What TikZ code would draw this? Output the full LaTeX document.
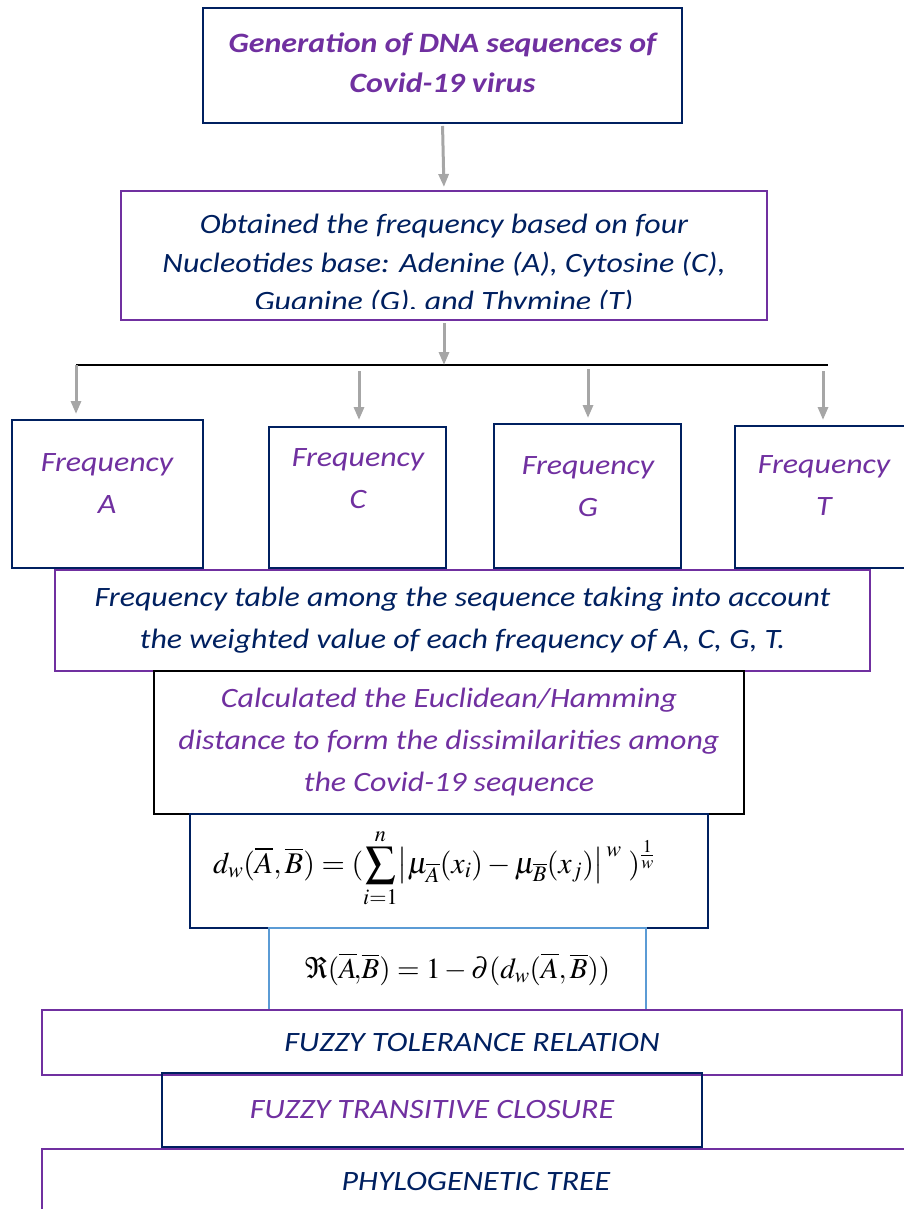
\documentclass[tikz,border=0pt]{standalone}
\usepackage{amsmath}
\usepackage{mathptmx}
\usepackage[no-math]{fontspec}
\setmainfont{Carlito}[FakeStretch=1.14]
\usepackage{tikz}
\usetikzlibrary{arrows.meta}
\definecolor{navy}{HTML}{002060}
\definecolor{purp}{HTML}{7030A0}
\definecolor{arrgray}{HTML}{A6A6A6}
\definecolor{skyb}{HTML}{5B9BD5}

\begin{document}
\begin{tikzpicture}[x=1pt,y=-1pt,>={Triangle[length=13pt,width=10pt]},
box/.style={draw,line width=2pt,inner sep=0pt},
navybox/.style={box,draw=navy},
purpbox/.style={box,draw=purp},
ptxt/.style={text=purp,font=\fontsize{28}{42}\selectfont\itshape,align=center},
ntxt/.style={text=navy,font=\fontsize{28}{42}\selectfont\itshape,align=center},
garrow/.style={->,draw=arrgray,line width=3pt}]
\useasboundingbox(0,0)rectangle(903,1209);
\node[navybox,minimum width=479pt,minimum height=115pt,ptxt,font=\fontsize{28}{40}\selectfont\bfseries\itshape,text depth=5pt](gen)at(442.5,65.5){Generation of DNA sequences of\\Covid-19 virus};
\node[purpbox,minimum width=646pt,minimum height=129pt](obt)at(444,255.5){};
\begin{scope}
\clip([yshift=-2pt]obt.north west)rectangle([yshift=13pt]obt.south east);
\node[ntxt,font=\fontsize{28}{38.5}\selectfont\itshape](obtt)at(444,265){Obtained the frequency based on four\\Nucleotides base: Adenine (A), Cytosine (C),\\Guanine (G). and Thymine (T)};
\end{scope}
\draw[garrow,shorten <=2pt,shorten >=3pt](gen.south)--(obt.north);
\coordinate(hub)at(444,365);
\coordinate(lL)at(76,365);
\coordinate(lR)at(828,365);
\draw[line width=1.5pt](lL)--(lR);
\draw[garrow,shorten <=2pt](obt.south)--(hub);
\node[navybox,minimum width=191pt,minimum height=148pt](fA)at(107.5,494){};
\node[navybox,minimum width=177pt,minimum height=141pt](fC)at(357.5,497.5){};
\node[navybox,minimum width=187pt,minimum height=144pt](fG)at(587.5,496){};
\node[navybox,minimum width=175pt,minimum height=142pt](fT)at(822.5,497){};
\node[ptxt](fAt)at(107,484){Frequency\\A};
\node[ptxt](fCt)at(358,479){Frequency\\C};
\node[ptxt](fGt)at(588,487){Frequency\\G};
\node[ptxt](fTt)at(824,486){Frequency\\T};
\coordinate(aC)at(359,371);
\coordinate(aG)at(588,369);
\coordinate(aT)at(823,371);
\draw[garrow,shorten >=5pt](lL)--(lL|-fA.north);
\draw[garrow,shorten >=6pt](aC)--(aC|-fC.north);
\draw[garrow,shorten >=5pt](aG)--(aG|-fG.north);
\draw[garrow,shorten >=5pt](aT)--(aT|-fT.north);
\node[purpbox,minimum width=815pt,minimum height=101pt,ntxt](tab)at(462.5,620.5){Frequency table among the sequence taking into account\\the weighted value of each frequency of A, C, G, T.};
\node[box,minimum width=590pt,minimum height=143pt,ptxt](calc)at(449,742.5){Calculated the Euclidean/Hamming\\distance to form the dissimilarities among\\the Covid-19 sequence};
\node[navybox,minimum width=518pt,minimum height=114pt](dist)at(449,871){};
\node[font=\fontsize{30}{36}\selectfont](distf)at(434,868){$\displaystyle d_{w}(\overline{A},\overline{B})=(\sum_{i=1}^{n}\bigl|\mu_{\overline{A}}(x_{i})-\mu_{\overline{B}}(x_{j})\bigr|^{\,w}\;)^{\frac{1}{w}}$};
\node[box,draw=skyb,minimum width=377pt,minimum height=82pt,font=\fontsize{29}{35}\selectfont](rel)at(457.5,969){$\Re(\overline{A}\!,\!\overline{B})=1-\partial(d_{w}(\overline{A},\overline{B}))$};
\node[purpbox,minimum width=860pt,minimum height=65pt,ntxt](tol)at(472,1042.5){FUZZY TOLERANCE RELATION};
\node[navybox,minimum width=540pt,minimum height=74pt,ptxt](clos)at(432,1110){FUZZY TRANSITIVE CLOSURE};
\node[purpbox,minimum width=868pt,minimum height=64pt,ntxt](tree)at(476,1181){PHYLOGENETIC TREE};
\end{tikzpicture}
\end{document}
